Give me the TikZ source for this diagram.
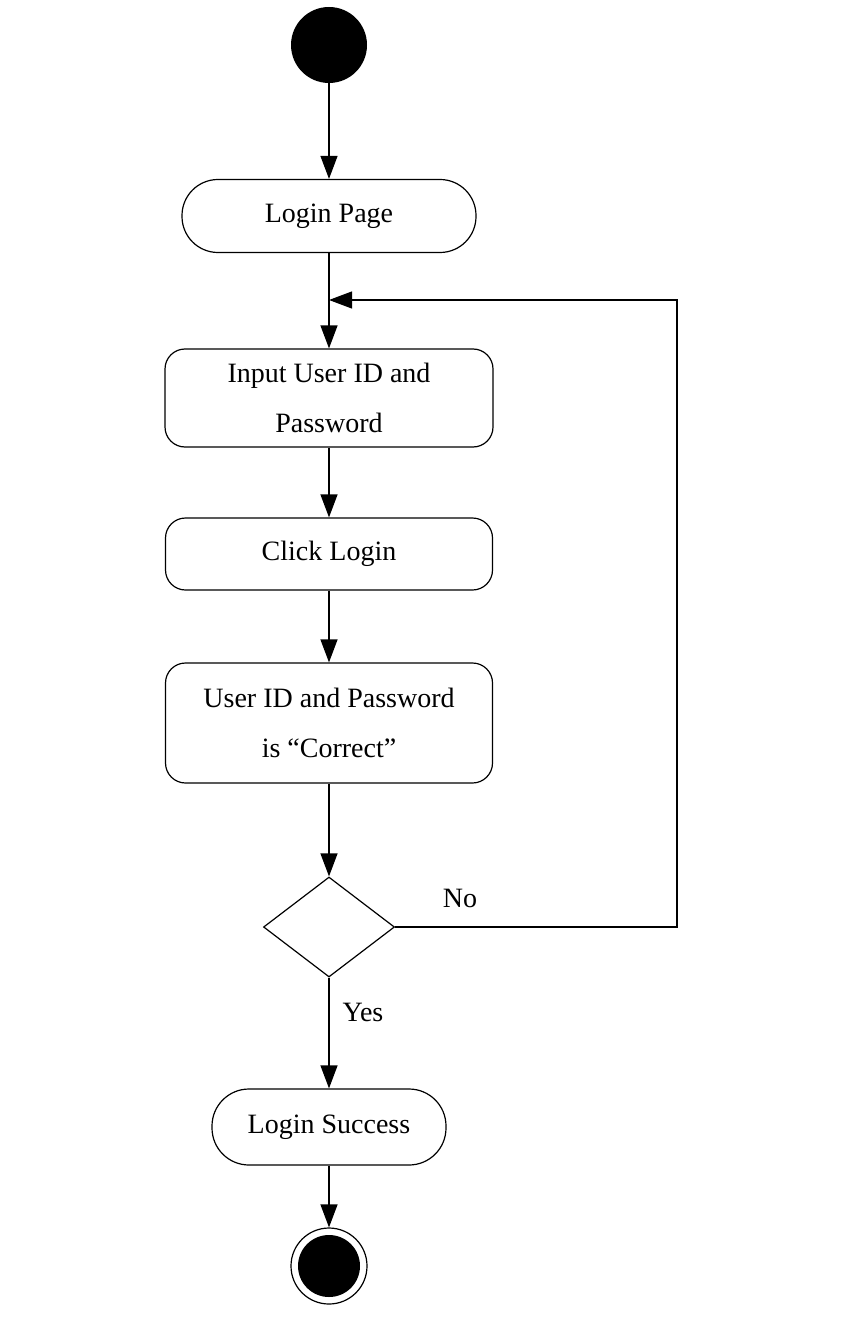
\documentclass[tikz,border=0pt]{standalone}
\usepackage{fontspec}
\setmainfont{Liberation Serif}
\usetikzlibrary{shapes.geometric,arrows.meta}
\tikzset{
    testo/.style={font=\fontsize{28}{50}\selectfont},
    activity/.style={draw=black, line width=1.2pt, rounded corners=20pt, inner sep=0pt, align=center, testo},
    capsule/.style={activity, rounded corners=36pt},
    decision/.style={draw=black, line width=1.2pt, diamond, inner sep=0pt, minimum width=131pt, minimum height=100pt},
    flow/.style={draw=black, line width=1.2pt, -{Triangle[length=23pt,width=17pt]}}
}
\begin{document}
\begin{tikzpicture}[x=1pt, y=-1pt]
    \useasboundingbox (0,0) rectangle (840,1337);
    \node[circle, fill=black, inner sep=0pt, minimum size=76pt] (inizio) at (329,45) {};
    \node[capsule, minimum width=294pt, minimum height=73pt] (login) at (329,216) {Login Page};
    \node[activity, minimum width=328pt, minimum height=98pt] (input) at (329,398) {Input User ID and\\Password};
    \node[activity, minimum width=327pt, minimum height=72pt] (click) at (329,554) {Click Login};
    \node[activity, minimum width=327pt, minimum height=120pt] (verifica) at (329,723) {User ID and Password\\is “Correct”};
    \node[decision] (scelta) at (329,927) {};
    \node[capsule, rounded corners=37pt, minimum width=234pt, minimum height=76pt] (successo) at (329,1127) {Login Success};
    \node[circle, draw=black, line width=1.2pt, inner sep=0pt, minimum size=76pt] (fine) at (329,1266) {};
    \node[circle, fill=black, inner sep=0pt, minimum size=62pt] (finepieno) at (fine) {};
    \node[testo] (no) at (460,898) {No};
    \node[testo] (yes) at (363,1012) {Yes};
    \coordinate (ritorno) at (329,300);
    \coordinate (angolo) at (677,300);
    \draw[flow] (inizio) -- (login);
    \draw[flow] (login) -- (input);
    \draw[flow] (input) -- (click);
    \draw[flow] (click) -- (verifica);
    \draw[flow] (verifica) -- (scelta);
    \draw[flow] (scelta.east) -| (angolo) -- (ritorno);
    \draw[flow] (scelta) -- (successo);
    \draw[flow] (successo) -- (fine);
\end{tikzpicture}
\end{document}
